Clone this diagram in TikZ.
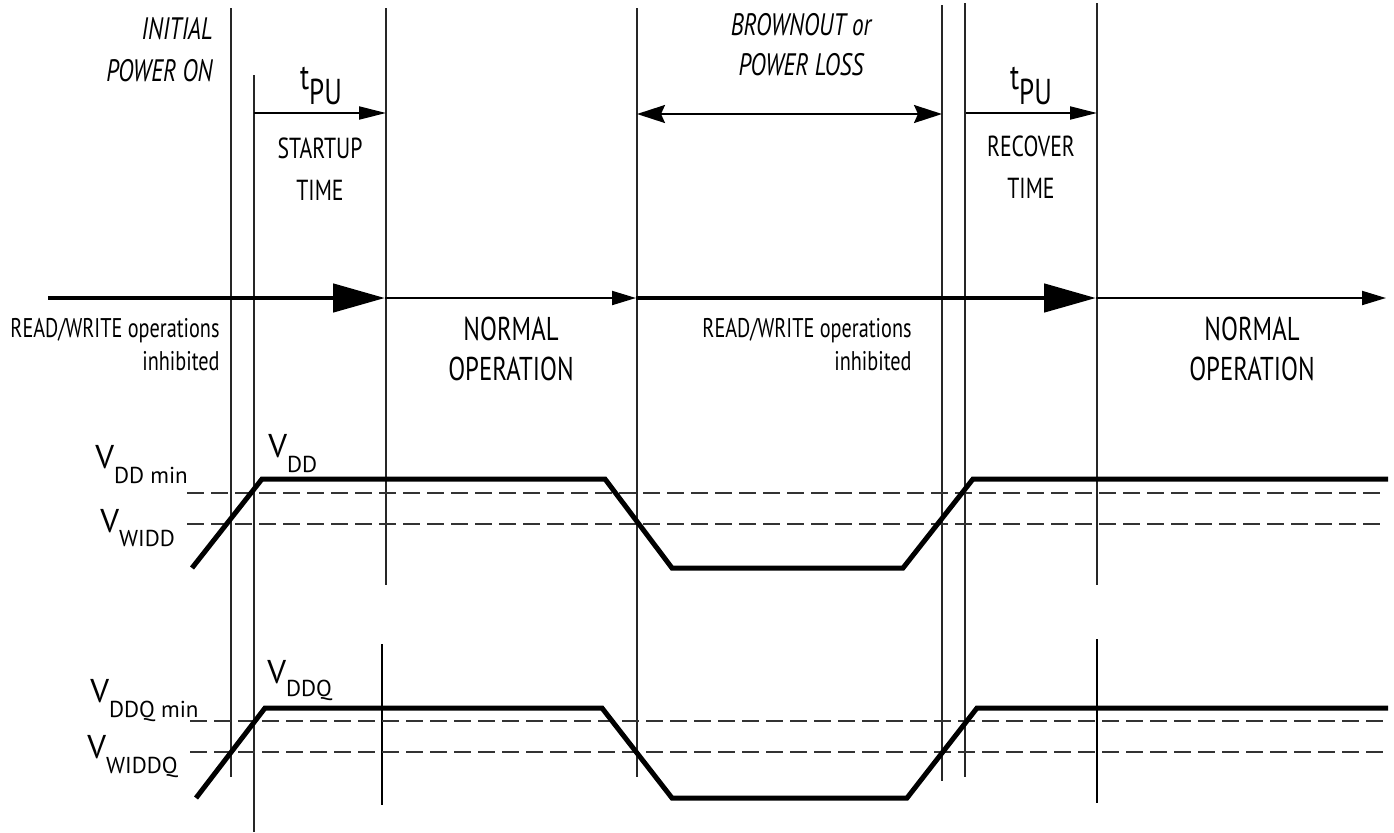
\documentclass[tikz,border=0pt]{standalone}
\usepackage{fontspec}
\setmainfont{PT Sans}
\newfontfamily\condf[FakeStretch=0.75]{PT Sans}
\usetikzlibrary{arrows.meta}
\begin{document}
\begin{tikzpicture}[x=0.5pt,y=-0.5pt,
  vline/.style={line width=0.65pt, black!85},
  marker/.style={line width=1.3pt},
  wave/.style={line width=2.5pt, line join=miter},
  dline/.style={line width=0.6pt, black!80, dash pattern=on 8.5pt off 3.5pt},
  bigarrow/.style={line width=2.4pt, -{Triangle[length=26pt,width=14pt]}},
  smallarrow/.style={line width=1pt, -{Triangle[length=12pt,width=7pt]}},
  tpuarrow/.style={line width=1pt, -{Triangle[length=13.5pt,width=6.5pt]}},
  dblarrow/.style={line width=1pt, {Stealth[length=14pt,width=9pt,inset=2pt]}-{Stealth[length=14pt,width=9pt,inset=2pt]}},
  lblA/.style={inner sep=0, font=\condf\fontsize{14.5}{21}\selectfont, align=center},
  lblB/.style={inner sep=0, font=\condf\fontsize{16.5}{20}\selectfont, align=center},
  lblC/.style={inner sep=0, font=\condf\fontsize{13.5}{16.5}\selectfont, align=right},
  lblI/.style={inner sep=0, font=\condf\itshape\fontsize{15.5}{21}\selectfont},
  tpu/.style={inner sep=0, font=\condf\fontsize{18}{18}\selectfont},
  vlab/.style={inner sep=0, anchor=base west, font=\fontsize{16.5}{16.5}\selectfont},
]
\useasboundingbox (0,0) rectangle (1394,832);

% vertical marker lines
\coordinate (v1t) at (231,8);   \coordinate (v1b) at (231,777);
\coordinate (v2t) at (254,75);  \coordinate (v2b) at (254,832);
\coordinate (v3t) at (386,8);   \coordinate (v3b) at (386,585);
\coordinate (v4t) at (637,8);   \coordinate (v4b) at (637,777);
\coordinate (v5t) at (942,5);   \coordinate (v5b) at (942,781);
\coordinate (v6t) at (965,3);   \coordinate (v6b) at (965,777);
\coordinate (v7t) at (1097,3);  \coordinate (v7b) at (1097,585);
\draw[vline] (v1t) -- (v1b);
\draw[vline] (v2t) -- (v2b);
\draw[vline] (v3t) -- (v3b);
\draw[vline] (v4t) -- (v4b);
\draw[vline] (v5t) -- (v5b);
\draw[vline] (v6t) -- (v6b);
\draw[vline] (v7t) -- (v7b);
\coordinate (m1t) at (382,644); \coordinate (m1b) at (382,805);
\coordinate (m2t) at (1097,639); \coordinate (m2b) at (1097,803);
\draw[marker] (m1t) -- (m1b);
\draw[marker] (m2t) -- (m2b);

% top labels (anchor = baseline of last line)
\node[lblI, anchor=base east, align=right] (init) at (213,81) {INITIAL\\POWER ON};
\node[lblI, anchor=base, align=center, font=\condf\itshape\fontsize{15.5}{20}\selectfont] (brown) at (801,75) {BROWNOUT or\\POWER LOSS};
\node[tpu, anchor=base] (tpu1) at (321,89) {t\raisebox{-7.5pt}{PU}};
\node[tpu, anchor=base] (tpu2) at (1031,89) {t\raisebox{-7.5pt}{PU}};
\node[lblA, anchor=base] (startup) at (320,200) {STARTUP\\TIME};
\node[lblA, anchor=base] (recover) at (1031,198) {RECOVER\\TIME};

% top interval arrows
\coordinate (a1s) at (254,113); \coordinate (a1e) at (386,113);
\coordinate (a2s) at (637,114); \coordinate (a2e) at (942,114);
\coordinate (a3s) at (966,113); \coordinate (a3e) at (1097,113);
\draw[tpuarrow] (a1s) -- (a1e);
\draw[dblarrow] (a2s) -- (a2e);
\draw[tpuarrow] (a3s) -- (a3e);

% main timeline
\coordinate (t0) at (48,298);
\coordinate (t1) at (385,298);
\coordinate (t2) at (636,298);
\coordinate (t3) at (1096,298);
\coordinate (t4) at (1386,298);
\draw[bigarrow] (t0) -- (t1);
\draw[smallarrow] (t1) -- (t2);
\draw[bigarrow] (t2) -- (t3);
\draw[smallarrow] (t3) -- (t4);

\node[lblC, anchor=base east] (rw1) at (220,370) {READ/WRITE operations\\inhibited};
\node[lblC, anchor=base east] (rw2) at (912,370) {READ/WRITE operations\\inhibited};
\node[lblB, anchor=base] (norm1) at (511,380) {NORMAL\\OPERATION};
\node[lblB, anchor=base] (norm2) at (1252,380) {NORMAL\\OPERATION};

% VDD waveform
\draw[dline] (187,493) -- (1386,493);
\draw[dline] (187,524) -- (1386,524);
\draw[wave] (192,568) -- (262,479) -- (605,479) -- (672,568) -- (903,568) -- (973,479) -- (1388,479);
\node[vlab] (vddmin) at (95,468) {V\raisebox{-7.5pt}{\fontsize{11.5}{11.5}\selectfont DD min}};
\node[vlab] (vwidd) at (100,532) {V\raisebox{-7pt}{\fontsize{11.5}{11.5}\selectfont WIDD}};
\node[vlab] (vdd) at (268,457) {V\raisebox{-7.5pt}{\fontsize{11.5}{11.5}\selectfont DD}};

% VDDQ waveform
\draw[dline] (190,721) -- (1386,721);
\draw[dline] (190,752) -- (1386,752);
\draw[wave] (196,798) -- (265,708) -- (602,708) -- (672,798) -- (907,798) -- (977,708) -- (1388,708);
\node[vlab] (vddqmin) at (90,702) {V\raisebox{-7.5pt}{\fontsize{11.5}{11.5}\selectfont DDQ min}};
\node[vlab] (vwiddq) at (87,758) {V\raisebox{-7.5pt}{\fontsize{11.5}{11.5}\selectfont WIDDQ}};
\node[vlab] (vddq) at (267,683) {V\raisebox{-6.5pt}{\fontsize{11.5}{11.5}\selectfont DDQ}};
\end{tikzpicture}
\end{document}
